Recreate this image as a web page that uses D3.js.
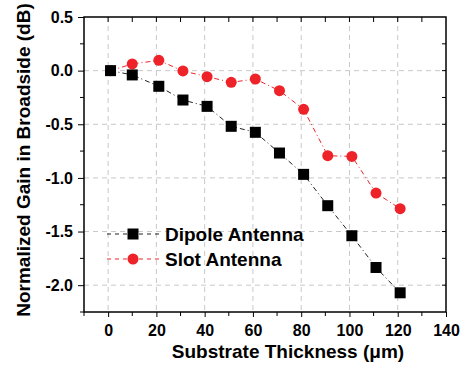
<!DOCTYPE html>
<html>
<head>
<meta charset="utf-8">
<script src="https://cdn.jsdelivr.net/npm/d3@7"></script>
<style>
  body { margin: 0; background: #fff; }
  text { font-family: "Liberation Sans", Arial, sans-serif; font-weight: bold; }
</style>
</head>
<body>
<div id="chart"></div>
<script>
// thickness values (um) and normalized gain (dB)
const thickness = [1, 10, 21, 31, 41, 51, 61, 71, 81, 91, 101, 111, 121]
const dipoleGain = [0, -0.04, -0.146, -0.274, -0.333, -0.519, -0.575, -0.768, -0.967, -1.259, -1.539, -1.835, -2.071]
const slotGain = [0, 0.062, 0.096, -0.003, -0.056, -0.109, -0.078, -0.187, -0.361, -0.793, -0.80, -1.141, -1.287]
const xTicks = [0, 20, 40, 60, 80, 100, 120, 140]
const yTicks = [0.5, 0.0, -0.5, -1.0, -1.5, -2.0]
const seriesNames = ['Dipole Antenna', 'Slot Antenna']

const width = 462, height = 370
const margin = ({top: 17, right: 16, bottom: 58, left: 84})

const svg = d3.select('#chart').append('svg')
    .attr('width', width)
    .attr('height', height)

const x = d3.scaleLinear()
    .domain([-10, 140])
    .range([margin.left, width - margin.right])

const y = d3.scaleLinear()
    .domain([-2.25, 0.5])
    .range([height - margin.bottom, margin.top])

// grid
const grid = svg.append('g')
    .attr('stroke', '#c8c8c8')
    .attr('stroke-dasharray', '5,4')
    .attr('stroke-width', 1)
grid.selectAll('.vg')
    .data(xTicks.filter(d => d < 140))
    .enter().append('line')
    .attr('x1', d => x(d)).attr('x2', d => x(d))
    .attr('y1', y.range()[1]).attr('y2', y.range()[0])
grid.selectAll('.hg')
    .data(yTicks.filter(d => d < 0.5))
    .enter().append('line')
    .attr('y1', d => y(d)).attr('y2', d => y(d))
    .attr('x1', x.range()[0]).attr('x2', x.range()[1])

const minorX = d3.range(-10, 141, 10)
const minorY = d3.range(-2.25, 0.51, 0.25)

// bottom axis (outward ticks)
const xAxis = svg.append('g')
    .attr('transform', `translate(0,${y.range()[0]})`)
    .call(d3.axisBottom(x).tickValues(xTicks).tickSize(5).tickPadding(8).tickFormat(d3.format('d')))
xAxis.select('.domain').remove()
xAxis.selectAll('text').attr('font-size', 16).attr('fill', '#000')
xAxis.selectAll('.minor')
    .data(minorX.filter(d => d % 20 !== 0))
    .enter().append('line')
    .attr('x1', d => x(d)).attr('x2', d => x(d))
    .attr('y1', 0).attr('y2', 4)
    .attr('stroke', '#000')

// left axis (outward ticks)
const yAxis = svg.append('g')
    .attr('transform', `translate(${x.range()[0]},0)`)
    .call(d3.axisLeft(y).tickValues(yTicks).tickSize(6).tickPadding(5).tickFormat(d3.format('.1f')))
yAxis.select('.domain').remove()
yAxis.selectAll('text').attr('font-size', 16).attr('fill', '#000')
    .text(d => d3.format('.1f')(d).replace('−', '-'))
yAxis.selectAll('.minor')
    .data(minorY.filter(d => Math.abs((d * 2) % 1) > 0.01))
    .enter().append('line')
    .attr('y1', d => y(d)).attr('y2', d => y(d))
    .attr('x1', 0).attr('x2', -4)
    .attr('stroke', '#000')

// top and right mirror ticks (inward)
svg.append('g').selectAll('line')
    .data(minorX.filter(d => d > -10 && d < 140))
    .enter().append('line')
    .attr('x1', d => x(d)).attr('x2', d => x(d))
    .attr('y1', y.range()[1]).attr('y2', y.range()[1] + 5)
    .attr('stroke', '#000')
svg.append('g').selectAll('line')
    .data(minorY.filter(d => d > -2.25 && d < 0.5))
    .enter().append('line')
    .attr('y1', d => y(d)).attr('y2', d => y(d))
    .attr('x1', x.range()[1]).attr('x2', x.range()[1] - 4)
    .attr('stroke', '#000')

// frame
svg.append('rect')
    .attr('x', x.range()[0]).attr('y', y.range()[1])
    .attr('width', x.range()[1] - x.range()[0])
    .attr('height', y.range()[0] - y.range()[1])
    .attr('fill', 'none')
    .attr('stroke', '#000')
    .attr('stroke-width', 1.5)

// series
const line = d3.line()
    .x(d => x(d[0]))
    .y(d => y(d[1]))

const dipole = thickness.map((t, i) => [t, dipoleGain[i]])
const slot = thickness.map((t, i) => [t, slotGain[i]])

svg.append('path')
    .datum(dipole)
    .attr('d', line)
    .attr('fill', 'none')
    .attr('stroke', '#222')
    .attr('stroke-width', 1)
    .attr('stroke-dasharray', '5,3,1,3')

svg.append('path')
    .datum(slot)
    .attr('d', line)
    .attr('fill', 'none')
    .attr('stroke', '#ee2229')
    .attr('stroke-width', 1)
    .attr('stroke-dasharray', '5,3,1,3')

svg.append('g').selectAll('circle')
    .data(slot)
    .enter().append('circle')
    .attr('cx', d => x(d[0]))
    .attr('cy', d => y(d[1]))
    .attr('r', 5.5)
    .attr('fill', '#ee2229')

svg.append('g').selectAll('rect')
    .data(dipole)
    .enter().append('rect')
    .attr('x', d => x(d[0]) - 5.5)
    .attr('y', d => y(d[1]) - 5.5)
    .attr('width', 11)
    .attr('height', 11)
    .attr('fill', '#000')

// legend
const legend = svg.append('g')
const legendRows = [
    {name: seriesNames[0], color: '#222', y: 234, shape: 'square'},
    {name: seriesNames[1], color: '#ee2229', y: 259, shape: 'circle'}
]
legendRows.forEach(r => {
    legend.append('line')
        .attr('x1', 107).attr('x2', 160)
        .attr('y1', r.y).attr('y2', r.y)
        .attr('stroke', r.color)
        .attr('stroke-dasharray', '4,4')
    if (r.shape === 'square') {
        legend.append('rect')
            .attr('x', 133 - 5.5).attr('y', r.y - 5.5)
            .attr('width', 11).attr('height', 11)
            .attr('fill', '#000')
    } else {
        legend.append('circle')
            .attr('cx', 133).attr('cy', r.y).attr('r', 5.5)
            .attr('fill', r.color)
    }
    legend.append('text')
        .attr('x', 165).attr('y', r.y + 7)
        .attr('font-size', 19)
        .text(r.name)
})

// axis titles
svg.append('text')
    .attr('x', 288).attr('y', 358)
    .attr('text-anchor', 'middle')
    .attr('font-size', 19)
    .text('Substrate Thickness (\u03bcm)')

svg.append('text')
    .attr('transform', 'translate(30,160) rotate(-90)')
    .attr('text-anchor', 'middle')
    .attr('font-size', 19)
    .text('Normalized Gain in Broadside (dB)')
</script>
</body>
</html>
